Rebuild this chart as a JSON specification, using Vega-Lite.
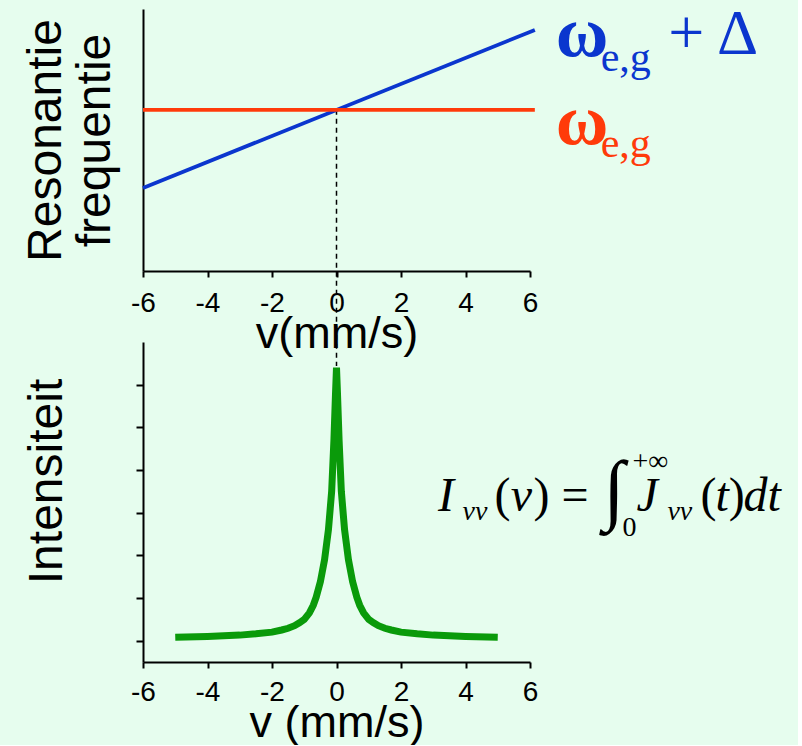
{
  "$schema": "https://vega.github.io/schema/vega-lite/v6.json",
  "background": "#E6FDEE",
  "padding": {"left": 21, "top": -3, "right": 17, "bottom": 0},
  "config": {
    "view": {"stroke": null},
    "font": "Liberation Sans",
    "axis": {"grid": false, "domainColor": "black", "domainWidth": 2, "tickColor": "black", "tickWidth": 2, "labelColor": "black", "titleColor": "black", "titleFontWeight": "normal", "labelFont": "Liberation Sans", "titleFont": "Liberation Sans"}
  },
  "datasets": {
    "freq": [
      {"series": "ωe,g + Δ", "v": -6, "f": 31.7},
      {"series": "ωe,g + Δ", "v": 6.15, "f": 92.0},
      {"series": "ωe,g", "v": -6, "f": 61.5},
      {"series": "ωe,g", "v": 6.15, "f": 61.5}
    ],
    "marker": [{"v": 0, "f": 61.5, "f2": -36.3}],
    "omega": [
      {"series": "ωe,g + Δ", "v": 6.8, "f": 82.1, "label": "ω"},
      {"series": "ωe,g", "v": 6.8, "f": 48.5, "label": "ω"}
    ],
    "omegasub": [
      {"series": "ωe,g + Δ", "v": 8.19, "f": 76.3, "label": "e,g"},
      {"series": "ωe,g", "v": 8.19, "f": 43.5, "label": "e,g"}
    ],
    "delta": [{"series": "ωe,g + Δ", "v": 10.29, "f": 82.8, "label": "+ Δ"}],
    "peak": [
      {"v": -5, "i": 0.58}, {"v": -4, "i": 0.60}, {"v": -3, "i": 0.63}, {"v": -2.5, "i": 0.66},
      {"v": -2, "i": 0.70}, {"v": -1.7, "i": 0.75}, {"v": -1.5, "i": 0.79}, {"v": -1.3, "i": 0.85},
      {"v": -1.15, "i": 0.92}, {"v": -1.0, "i": 1.0}, {"v": -0.84, "i": 1.15}, {"v": -0.72, "i": 1.33},
      {"v": -0.63, "i": 1.52}, {"v": -0.5, "i": 1.88}, {"v": -0.37, "i": 2.4}, {"v": -0.25, "i": 3.1},
      {"v": -0.15, "i": 4.0}, {"v": -0.08, "i": 5.2}, {"v": -0.03, "i": 6.3}, {"v": 0, "i": 6.9},
      {"v": 0.03, "i": 6.3}, {"v": 0.08, "i": 5.2}, {"v": 0.15, "i": 4.0}, {"v": 0.25, "i": 3.1},
      {"v": 0.37, "i": 2.4}, {"v": 0.5, "i": 1.88}, {"v": 0.63, "i": 1.52}, {"v": 0.72, "i": 1.33},
      {"v": 0.84, "i": 1.15}, {"v": 1.0, "i": 1.0}, {"v": 1.15, "i": 0.92}, {"v": 1.3, "i": 0.85},
      {"v": 1.5, "i": 0.79}, {"v": 1.7, "i": 0.75}, {"v": 2, "i": 0.70}, {"v": 2.5, "i": 0.66},
      {"v": 3, "i": 0.63}, {"v": 4, "i": 0.60}, {"v": 5, "i": 0.58}
    ],
    "bigItalic": [
      {"v": 3.15, "i": 3.54, "label": "I"},
      {"v": 5.40, "i": 3.54, "label": "v"},
      {"v": 9.30, "i": 3.54, "label": "J"},
      {"v": 11.75, "i": 3.54, "label": "t"},
      {"v": 12.62, "i": 3.54, "label": "dt"}
    ],
    "bigUpright": [
      {"v": 4.90, "i": 3.54, "label": "("},
      {"v": 6.11, "i": 3.54, "label": ") ="},
      {"v": 11.29, "i": 3.54, "label": "("},
      {"v": 12.16, "i": 3.54, "label": ")"}
    ],
    "smallItalic": [
      {"v": 3.91, "i": 3.33, "label": "vv"},
      {"v": 10.26, "i": 3.33, "label": "vv"}
    ],
    "smallUpright": [
      {"v": 9.18, "i": 4.5, "label": "+∞"},
      {"v": 8.87, "i": 2.95, "label": "0"}
    ],
    "integral": [{"v": 8.28, "i": 3.45, "label": "∫"}]
  },
  "bounds": "flush",
  "spacing": 71,
  "vconcat": [
    {
      "width": 387,
      "height": 262,
      "layer": [
        {
          "data": {"name": "marker"},
          "mark": {"type": "rule", "strokeDash": [5, 4], "strokeWidth": 1.5, "color": "black"},
          "encoding": {
            "x": {"field": "v", "type": "quantitative"},
            "y": {"field": "f", "type": "quantitative"},
            "y2": {"field": "f2"}
          }
        },
        {
          "data": {"name": "freq"},
          "mark": {"type": "line", "strokeWidth": 3.8},
          "encoding": {
            "x": {
              "field": "v", "type": "quantitative",
              "scale": {"domain": [-6, 6], "nice": false},
              "axis": {
                "values": [-6, -5, -4, -3, -2, -1, 0, 1, 2, 3, 4, 5, 6],
                "tickSize": {"condition": {"test": "datum.value % 2 !== 0", "value": 3}, "value": 6},
                "labelExpr": "datum.value % 2 === 0 ? toString(datum.value) : ''",
                "labelFontSize": 28, "labelPadding": 12, "labelFlush": false, "labelOverlap": false,
                "title": "v(mm/s)", "titleFontSize": 45, "titlePadding": -6
              }
            },
            "y": {
              "field": "f", "type": "quantitative",
              "scale": {"domain": [0, 100], "nice": false},
              "axis": {
                "ticks": false, "labels": false,
                "title": ["Resonantie", "frequentie"], "titleFontSize": 48, "titleLineHeight": 49, "titlePadding": 24
              }
            },
            "color": {
              "field": "series", "type": "nominal",
              "scale": {"domain": ["ωe,g + Δ", "ωe,g"], "range": ["#0B36CE", "#FF3A0A"]},
              "legend": null
            }
          }
        },
        {
          "data": {"name": "omega"},
          "mark": {"type": "text", "font": "Liberation Serif", "fontSize": 72, "fontWeight": "bold", "align": "left", "baseline": "alphabetic"},
          "encoding": {
            "x": {"field": "v", "type": "quantitative"},
            "y": {"field": "f", "type": "quantitative"},
            "text": {"field": "label"},
            "color": {"field": "series", "type": "nominal", "legend": null}
          }
        },
        {
          "data": {"name": "omegasub"},
          "mark": {"type": "text", "font": "Liberation Serif", "fontSize": 42, "align": "left", "baseline": "alphabetic"},
          "encoding": {
            "x": {"field": "v", "type": "quantitative"},
            "y": {"field": "f", "type": "quantitative"},
            "text": {"field": "label"},
            "color": {"field": "series", "type": "nominal", "legend": null}
          }
        },
        {
          "data": {"name": "delta"},
          "mark": {"type": "text", "font": "Liberation Serif", "fontSize": 64, "align": "left", "baseline": "alphabetic"},
          "encoding": {
            "x": {"field": "v", "type": "quantitative"},
            "y": {"field": "f", "type": "quantitative"},
            "text": {"field": "label"},
            "color": {"field": "series", "type": "nominal", "legend": null}
          }
        }
      ]
    },
    {
      "width": 387,
      "height": 320,
      "layer": [
        {
          "data": {"name": "peak"},
          "mark": {"type": "line", "color": "#0A9A0A", "strokeWidth": 7, "strokeJoin": "miter", "strokeCap": "butt"},
          "encoding": {
            "x": {
              "field": "v", "type": "quantitative",
              "scale": {"domain": [-6, 6], "nice": false},
              "axis": {
                "values": [-6, -5, -4, -3, -2, -1, 0, 1, 2, 3, 4, 5, 6],
                "tickSize": {"condition": {"test": "datum.value % 2 !== 0", "value": 3}, "value": 6},
                "labelExpr": "datum.value % 2 === 0 ? toString(datum.value) : ''",
                "labelFontSize": 28, "labelPadding": 10, "labelFlush": false, "labelOverlap": false,
                "title": "v (mm/s)", "titleFontSize": 45, "titlePadding": -6
              }
            },
            "y": {
              "field": "i", "type": "quantitative",
              "scale": {"domain": [0, 7.5], "nice": false, "zero": false},
              "axis": {
                "values": [0.5, 1, 1.5, 2, 2.5, 3, 3.5, 4, 4.5, 5, 5.5, 6, 6.5, 7],
                "tickSize": {"condition": {"test": "datum.value % 1 !== 0", "value": 7}, "value": 4},
                "labels": false,
                "title": "Intensiteit", "titleFontSize": 48, "titlePadding": 64, "titleY": 139
              }
            }
          }
        },
        {
          "data": {"name": "bigItalic"},
          "mark": {"type": "text", "font": "Liberation Serif", "fontSize": 48, "fontStyle": "italic", "align": "left", "baseline": "alphabetic", "color": "black"},
          "encoding": {
            "x": {"field": "v", "type": "quantitative"},
            "y": {"field": "i", "type": "quantitative"},
            "text": {"field": "label"}
          }
        },
        {
          "data": {"name": "bigUpright"},
          "mark": {"type": "text", "font": "Liberation Serif", "fontSize": 48, "align": "left", "baseline": "alphabetic", "color": "black"},
          "encoding": {
            "x": {"field": "v", "type": "quantitative"},
            "y": {"field": "i", "type": "quantitative"},
            "text": {"field": "label"}
          }
        },
        {
          "data": {"name": "smallItalic"},
          "mark": {"type": "text", "font": "Liberation Serif", "fontSize": 28, "fontStyle": "italic", "align": "left", "baseline": "alphabetic", "color": "black"},
          "encoding": {
            "x": {"field": "v", "type": "quantitative"},
            "y": {"field": "i", "type": "quantitative"},
            "text": {"field": "label"}
          }
        },
        {
          "data": {"name": "smallUpright"},
          "mark": {"type": "text", "font": "Liberation Serif", "fontSize": 28, "align": "left", "baseline": "alphabetic", "color": "black"},
          "encoding": {
            "x": {"field": "v", "type": "quantitative"},
            "y": {"field": "i", "type": "quantitative"},
            "text": {"field": "label"}
          }
        },
        {
          "data": {"name": "integral"},
          "mark": {"type": "text", "font": "Liberation Serif", "fontSize": 78, "align": "left", "baseline": "alphabetic", "color": "black"},
          "encoding": {
            "x": {"field": "v", "type": "quantitative"},
            "y": {"field": "i", "type": "quantitative"},
            "text": {"field": "label"}
          }
        }
      ]
    }
  ]
}
